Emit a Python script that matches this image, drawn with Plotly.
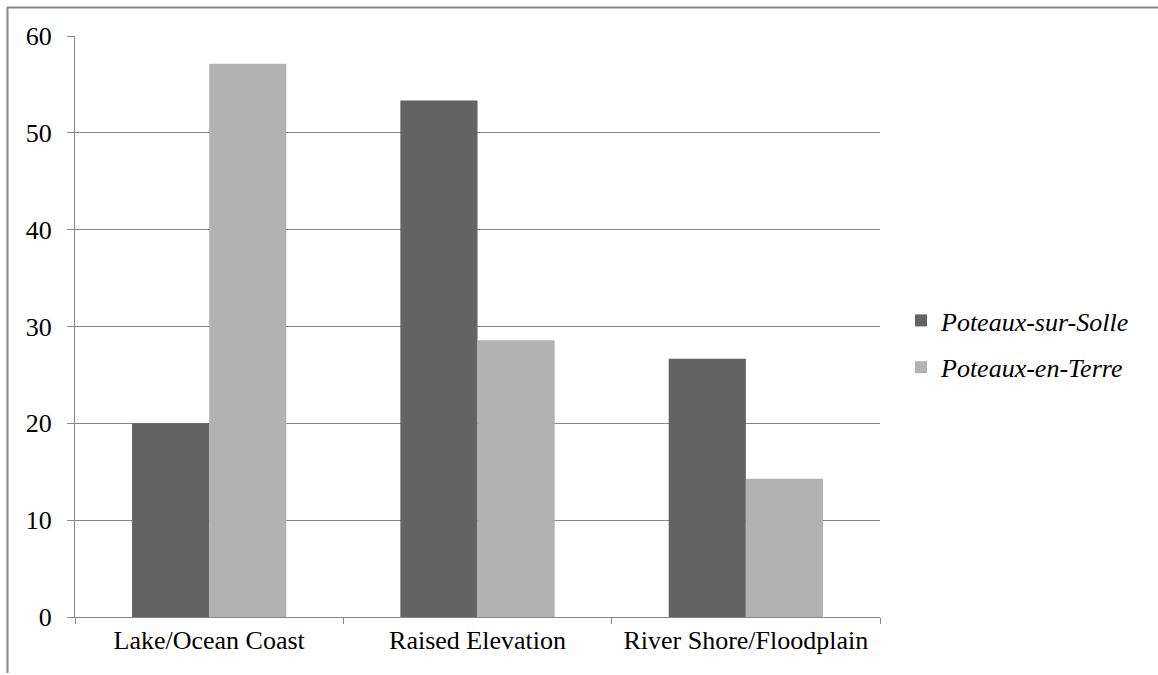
import plotly.graph_objects as go

categories = ["Lake/Ocean Coast", "Raised Elevation", "River Shore/Floodplain"]
sur_solle = [20.0, 53.33, 26.67]
en_terre = [57.14, 28.57, 14.29]
series_names = ["Poteaux-sur-Solle", "Poteaux-en-Terre"]

W, H = 1158, 675
L, R, T, B = 75, 278, 36, 58
pw, ph = W - L - R, H - T - B

def px_x(x):
    return (x - L) / pw

def px_y(y):
    return (H - B - y) / ph

fig = go.Figure()
fig.add_trace(go.Bar(x=categories, y=sur_solle, name=series_names[0], legendgroup="a",
                     marker=dict(color="#636363", line=dict(width=0))))
fig.add_trace(go.Bar(x=categories, y=en_terre, name=series_names[1], legendgroup="b",
                     marker=dict(color="#b2b2b2", line=dict(width=0))))

font = dict(family="Liberation Serif, Times New Roman, serif", size=26, color="#000000")

fig.update_layout(
    width=W, height=H,
    margin=dict(l=L, r=R, t=T, b=B, autoexpand=False),
    paper_bgcolor="white", plot_bgcolor="white",
    barmode="group", bargap=0.425, bargroupgap=0,
    font=font,
    showlegend=True,
    legend=dict(x=px_x(901), y=px_y(344), xanchor="left", yanchor="middle",
                font=dict(family="Liberation Serif", size=26,
                          color="#000000", style="italic"),
                bgcolor="rgba(0,0,0,0)", traceorder="grouped", tracegroupgap=10,
                itemwidth=30),
    xaxis=dict(showgrid=False, showline=True, linecolor="#868686", linewidth=1,
               ticks="outside", tickson="boundaries", ticklen=6, tickcolor="#868686",
               tickfont=font, zeroline=False),
    yaxis=dict(range=[0, 60], dtick=10, showgrid=True, gridcolor="#868686", gridwidth=1,
               showline=True, linecolor="#868686", linewidth=1,
               ticks="outside", ticklen=7, tickcolor="#868686", tickfont=font,
               zeroline=False, ticklabelstandoff=10),
)

# outer frame (top and left edges visible)
fig.add_shape(type="line", xref="paper", yref="paper",
              x0=px_x(7), x1=px_x(W + 5), y0=px_y(7.5), y1=px_y(7.5),
              line=dict(color="#868686", width=2))
fig.add_shape(type="line", xref="paper", yref="paper",
              x0=px_x(7.5), x1=px_x(7.5), y0=px_y(7), y1=px_y(673),
              line=dict(color="#868686", width=2))

fig.write_html("out.html", config={"displayModeBar": False},
               post_script="document.body.style.margin='0';")
